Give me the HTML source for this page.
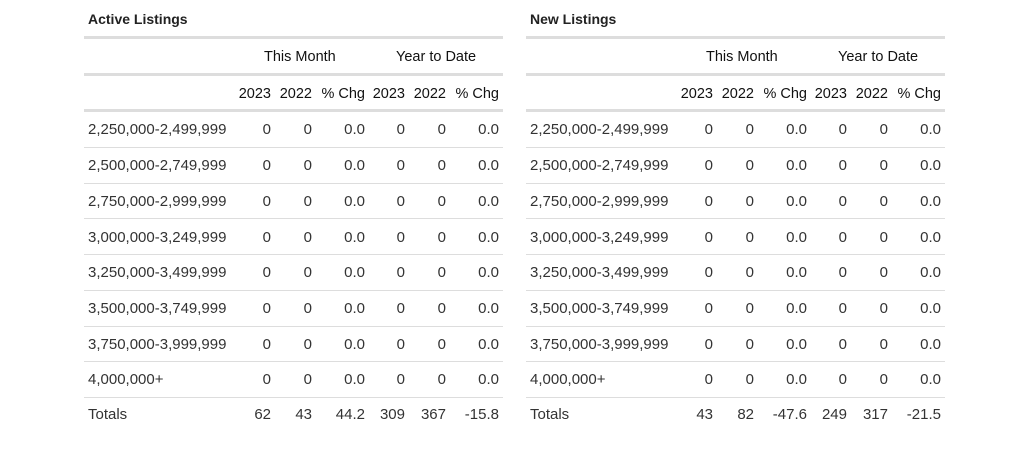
<!DOCTYPE html>
<html><head><meta charset="utf-8"><style>
body{margin:0;width:1024px;height:461px;background:#fff;font-family:"Liberation Sans",sans-serif;color:#333;position:relative;overflow:hidden}
.t{position:absolute;width:420px;height:461px;top:0}
.h{position:absolute;left:4px;top:11px;font-size:14px;font-weight:bold;color:#222}
.l{position:absolute;left:0;width:419px;background:#ddd}
.c{position:absolute;font-size:15px;line-height:18px;white-space:nowrap}
.r{text-align:right}
.b{font-size:14.5px;color:#111}
</style></head><body>
<div id="A" class="t" style="left:84px"></div>
<div id="B" class="t" style="left:526px"></div>
<script>
function build(id,title,tot){
 var e=document.getElementById(id),h='';
 h+='<div class="h">'+title+'</div>';
 [[36,3],[73,3],[109,3]].forEach(function(l){h+='<div class="l" style="top:'+l[0]+'px;height:'+l[1]+'px"></div>'});
 [147,183,218,254,290,326,361,397].forEach(function(y){h+='<div class="l" style="top:'+y+'px;height:1px"></div>'});
 h+='<div class="c b" style="left:180px;top:48px">This Month</div>';
 h+='<div class="c b" style="left:312px;top:48px">Year to Date</div>';
 var R=[187,228,281,321,362,415];
 var hd=['2023','2022','% Chg','2023','2022','% Chg'];
 hd.forEach(function(s,i){h+='<div class="c r b" style="right:'+(420-R[i])+'px;top:85px">'+s+'</div>'});
 var rows=['2,250,000-2,499,999','2,500,000-2,749,999','2,750,000-2,999,999','3,000,000-3,249,999','3,250,000-3,499,999','3,500,000-3,749,999','3,750,000-3,999,999','4,000,000+','Totals'];
 var ys=[129,165,201,237,272,308,344,379,414];
 rows.forEach(function(r,k){
  var y=ys[k]-8;
  h+='<div class="c" style="left:4px;top:'+y+'px">'+r+'</div>';
  var v=k==8?tot:['0','0','0.0','0','0','0.0'];
  v.forEach(function(s,i){h+='<div class="c r" style="right:'+(420-R[i])+'px;top:'+y+'px">'+s+'</div>'});
 });
 e.innerHTML=h;
}
build('A','Active Listings',['62','43','44.2','309','367','-15.8']);
build('B','New Listings',['43','82','-47.6','249','317','-21.5']);
</script>
</body></html>
